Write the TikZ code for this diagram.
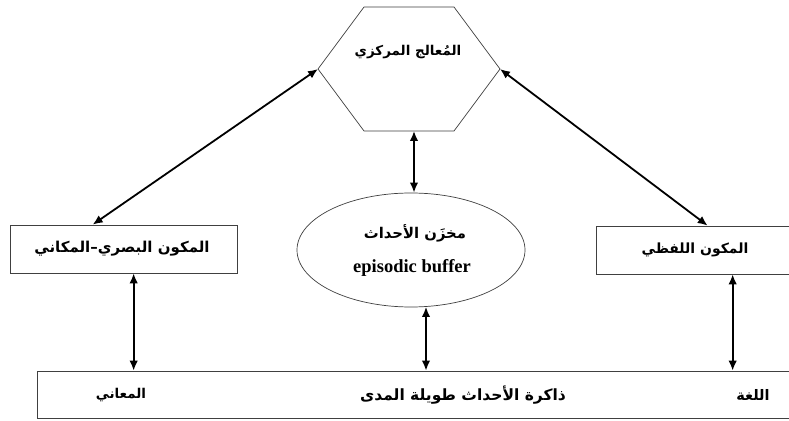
\documentclass[tikz,border=0pt]{standalone}
\usepackage{fontspec}
\usetikzlibrary{arrows.meta,shapes.geometric,calc}
\TeXXeTstate=1
\newfontfamily\arabicfont[Script=Arabic]{DejaVu Sans}
\newfontfamily\latinserif{Liberation Serif}
\newcommand{\ar}[1]{{\arabicfont\bfseries\beginR #1\endR}}
\tikzset{
  shapeline/.style={draw=black!75, line width=0.7pt},
  boxnode/.style={shapeline, rectangle, inner sep=0pt},
  lbl/.style={inner sep=0pt},
  dbl/.style={line width=1.8pt, {Latex[length=10pt,width=8.5pt]}-{Latex[length=10pt,width=8.5pt]}},
}
\begin{document}
\begin{tikzpicture}[x=1pt,y=1pt]
\clip (0,0) rectangle (789,420);
\fill[white] (0,0) rectangle (789,420);
% hexagon
\coordinate (hexNW) at (364,413);
\coordinate (hexNE) at (454,413);
\coordinate (hexE) at (500,351);
\coordinate (hexSE) at (454,289);
\coordinate (hexSW) at (364,289);
\coordinate (hexW) at (318,351);
\coordinate (hexS) at (414,289);
\draw[shapeline] (hexNW) -- (hexNE) -- (hexE) -- (hexSE) -- (hexSW) -- (hexW) -- cycle;
\node[lbl, font=\fontsize{13.5}{15}\selectfont] (hextxt) at (408,368) {\ar{المُعالج المركزي}};
% ellipse
\node[shapeline, ellipse, minimum width=228pt, minimum height=114pt, inner sep=0pt] (ell) at (411,170) {};
\node[lbl, font=\fontsize{14.8}{16}\selectfont] (elltxt) at (415,187) {\ar{مخزَن الأحداث}};
\node[lbl, font=\latinserif\bfseries\fontsize{18.5}{20}\selectfont] (elleng) at (412,152) {episodic buffer};
% boxes
\node[boxnode, minimum width=227pt, minimum height=48pt] (lbox) at (123.5,171) {};
\node[lbl, font=\fontsize{15}{17}\selectfont] (ltxt) at (122,171) {\ar{المكون البصري–المكاني}};
\node[boxnode, minimum width=204pt, minimum height=48pt] (rbox) at (698,170) {};
\node[lbl, font=\fontsize{14}{16}\selectfont] (rtxt) at (695,170) {\ar{المكون اللفظي}};
\node[boxnode, minimum width=763pt, minimum height=47pt] (bbox) at (418.5,25.5) {};
\node[lbl, font=\fontsize{13.5}{15}\selectfont] (b1) at (121,25) {\ar{المعاني}};
\node[lbl, font=\fontsize{15.5}{17}\selectfont] (b2) at (463,25) {\ar{ذاكرة الأحداث طويلة المدى}};
\node[lbl, font=\fontsize{14.5}{16}\selectfont] (b3) at (753,25) {\ar{اللغة}};
% connectors
\coordinate (lboxTop) at ($(lbox.north west)+(83,0)$);
\coordinate (rboxTop) at ($(rbox.north west)+(112,0)$);
\coordinate (ellTop) at ($(ell.north)+(3,0)$);
\coordinate (lboxBot) at ($(lbox.south west)+(124,0)$);
\coordinate (ellBot) at ($(ell.south)+(15,0.5)$);
\coordinate (rboxBot) at ($(rbox.south west)+(137,0)$);
\draw[dbl] (hexW) -- (lboxTop);
\draw[dbl] (hexE) -- (rboxTop);
\draw[dbl] (hexS) -- (ellTop);
\draw[dbl] (lboxBot) -- (lboxBot |- bbox.north);
\draw[dbl] (ellBot) -- (ellBot |- bbox.north);
\draw[dbl] (rboxBot) -- (rboxBot |- bbox.north);
\end{tikzpicture}
\end{document}
